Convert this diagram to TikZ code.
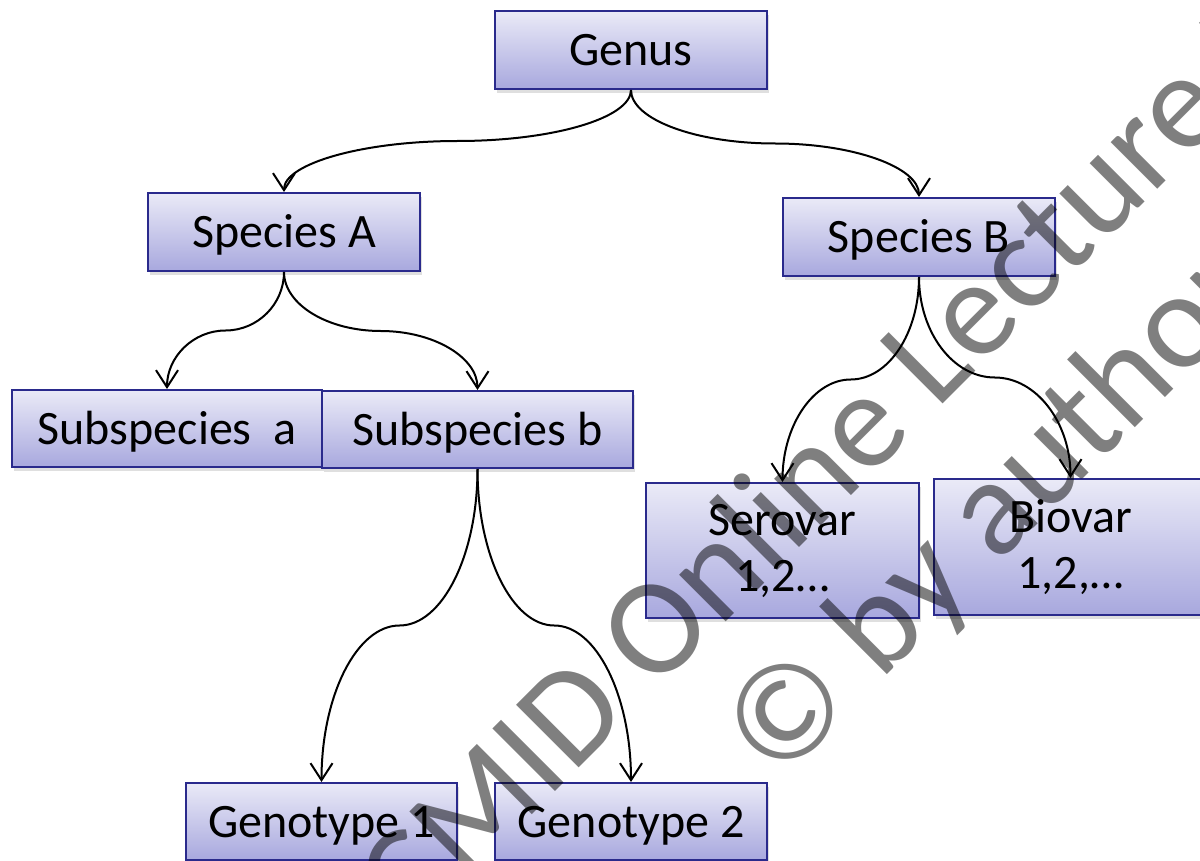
\documentclass[tikz,border=0pt]{standalone}
\usepackage{fontspec}
\setmainfont{Carlito}
\usetikzlibrary{arrows.meta,calc,shadows}
\definecolor{boxtop}{RGB}{234,234,247}
\definecolor{boxbot}{RGB}{168,168,222}
\definecolor{boxline}{RGB}{42,42,140}
\tikzset{
  box/.style={rectangle, draw=boxline, line width=2pt, top color=boxtop, bottom color=boxbot,
    minimum width=272pt, minimum height=78pt, inner sep=0pt, align=center,
    font=\fontsize{48}{56}\selectfont, text=black,
    drop shadow={shadow xshift=1.5pt, shadow yshift=-4pt, opacity=0.25}},
  one/.style={text height=31pt, text depth=0pt},
  conn/.style={draw=black, line width=2pt, -{Straight Barb[length=17pt,width=22pt]}},
  brace/.style={to path={
    let \p1=(\tikztostart), \p2=(\tikztotarget), \p3=($(\p1)!0.5!(\p2)$) in
    .. controls ($(\p1)!0.55!(\x1,\y3)$) and ($(\p3)!0.55!(\x1,\y3)$) .. (\p3)
    .. controls ($(\p3)!0.55!(\x2,\y3)$) and ($(\p2)!0.55!(\x2,\y3)$) .. (\p2) \tikztonodes}},
  wm/.style={rotate=45, inner sep=0pt, font=\fontsize{138}{150}\selectfont,
    text height=88pt, text depth=0pt, text=black, text opacity=0.5}
}
\begin{document}
\begin{tikzpicture}[x=1pt,y=-1pt]
\useasboundingbox (0,0) rectangle (1200,861);
% boxes
\node[box, one] (genus) at (631,50) {Genus};
\node[box, one] (spA) at (284,232) {Species A};
\node[box, one] (spB) at (919,237) {Species B};
\node[box, one, minimum width=310pt, minimum height=77pt] (subA) at (167,428.5) {Subspecies\ \ a};
\node[box, one, minimum width=311pt, minimum height=77pt] (subB) at (477.5,429.5) {Subspecies b};
\node[box, minimum width=273pt, minimum height=135pt] (sero) at (782.5,550.5) {Serovar\\1,2…};
\node[box, minimum width=273pt, minimum height=136pt] (bio) at (1070.5,547) {Biovar\\1,2,…};
\node[box, one, minimum width=271pt, minimum height=77pt] (gen1) at (321.5,821.5) {Genotype 1};
\node[box, one, minimum height=77pt] (gen2) at (631,821.5) {Genotype 2};
% connectors
\draw[conn] (genus.south) to[brace] (spA.north);
\draw[conn] (genus.south) to[brace] (spB.north);
\draw[conn] (spA.south) to[brace] (subA.north);
\draw[conn] (spA.south) to[brace] (subB.north);
\draw[conn] (spB.south) to[brace] (sero.north);
\draw[conn] (spB.south) to[brace] (bio.north);
\draw[conn] (subB.south) to[brace] (gen1.north);
\draw[conn] (subB.south) to[brace] (gen2.north);
% watermark
\node[wm] (wmark1) at (893,392) {ESCMID Online Lecture Library};
\node[wm] (wmark2) at (990,510) {© by author};
\end{tikzpicture}
\end{document}
